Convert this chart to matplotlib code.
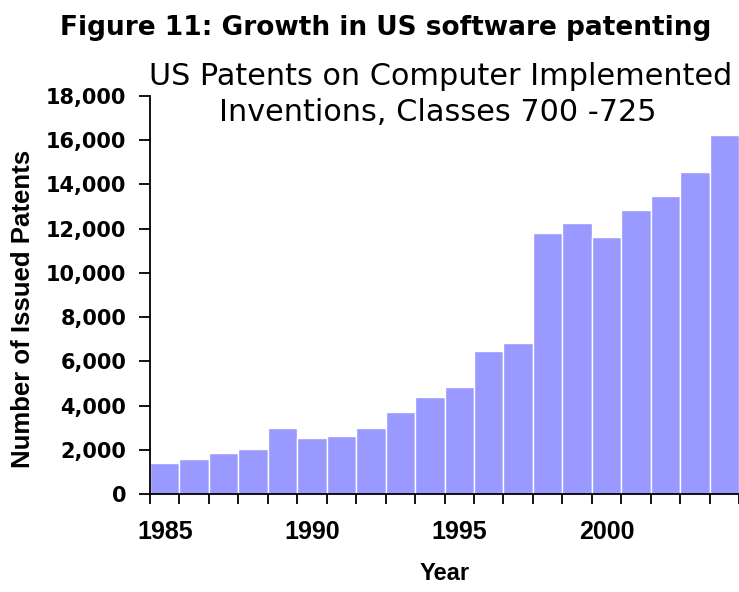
import numpy as np
import matplotlib.pyplot as plt
from matplotlib.ticker import FuncFormatter, FixedLocator

years = list(range(1985, 2005))
patents = [1420, 1600, 1840, 2020, 2990, 2550, 2630, 2990, 3700, 4380,
           4820, 6480, 6830, 11810, 12240, 11620, 12840, 13470, 14580, 16220]
label_years = [1985, 1990, 1995, 2000]

plt.rcParams['font.family'] = ['Liberation Sans', 'DejaVu Sans']

W, H = 739, 592
fig = plt.figure(figsize=(W / 100, H / 100), dpi=100)
ax = fig.add_axes([150 / W, 1 - 494 / H, 1 - 150 / W, (494 - 96) / H])

# 每年一根柱子, 从左边界开始画
x = np.arange(len(years))
ax.bar(x, patents, width=1.0, align='edge', color='#9999ff',
       edgecolor='white', linewidth=1.0)

ax.set_xlim(0, len(years))
ax.set_ylim(0, 18000)

# 刻度线在柱子之间, 年份标签放在柱子中间
ax.xaxis.set_major_locator(FixedLocator(np.arange(len(years) + 1)))
ax.xaxis.set_major_formatter(FuncFormatter(lambda v, p: ''))
centers = [years.index(y) + 0.5 for y in label_years]
ax.xaxis.set_minor_locator(FixedLocator(centers))
ax.set_xticklabels([str(y) for y in label_years], minor=True)
ax.tick_params(axis='x', which='major', direction='out', length=7.5, width=1.3)
ax.tick_params(axis='x', which='minor', length=0, pad=19, labelsize=18)
for t in ax.get_xticklabels(minor=True):
    t.set_fontweight('bold')

ax.set_yticks(np.arange(0, 18001, 2000))
ax.yaxis.set_major_formatter(FuncFormatter(lambda v, p: f'{int(v):,}'))
ax.tick_params(axis='y', direction='out', length=8, width=1.3, pad=9,
               labelsize=15)
for t in ax.get_yticklabels():
    t.set_fontweight('bold')
    t.set_family('DejaVu Sans')

for s in ['top', 'right']:
    ax.spines[s].set_visible(False)
for s in ['left', 'bottom']:
    ax.spines[s].set_linewidth(1.3)

fig.text(445 / W, 1 - 573 / H, 'Year', ha='center', va='center',
         fontsize=17, fontweight='bold')
fig.text(23 / W, 1 - 309 / H, 'Number of Issued Patents', ha='center',
         va='center', rotation=90, fontsize=18.5, fontweight='bold')

fig.text(386 / W, 1 - 35 / H, 'Figure 11: Growth in US software patenting',
         ha='center', va='baseline', fontsize=19, fontweight='bold',
         family='DejaVu Sans')
fig.text(441 / W, 1 - 85 / H, 'US Patents on Computer Implemented',
         ha='center', va='baseline', fontsize=21.8, family='DejaVu Sans')
fig.text(438 / W, 1 - 121 / H, 'Inventions, Classes 700 -725',
         ha='center', va='baseline', fontsize=21.8, family='DejaVu Sans')

fig.savefig('out.png', dpi=100)
